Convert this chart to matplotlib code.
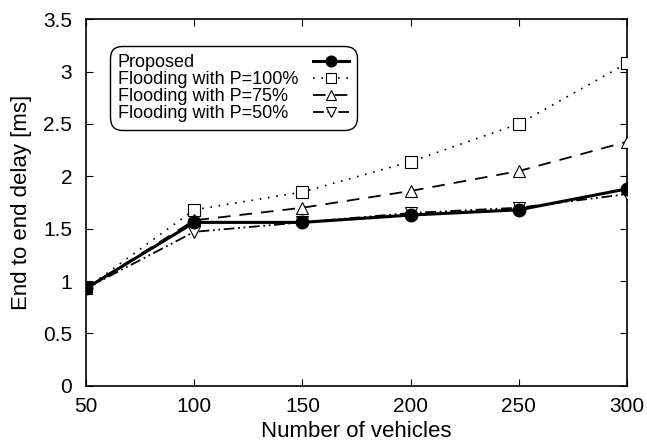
import numpy as np
import matplotlib
matplotlib.use("Agg")
import matplotlib.pyplot as plt
from matplotlib.offsetbox import DrawingArea

# data
vehicles = [50, 100, 150, 200, 250, 300]
proposed = [0.93, 1.56, 1.56, 1.63, 1.68, 1.88]
flood_100 = [0.93, 1.68, 1.85, 2.14, 2.50, 3.08]
flood_75 = [0.93, 1.58, 1.70, 1.86, 2.05, 2.33]
flood_50 = [0.93, 1.47, 1.56, 1.65, 1.70, 1.83]

plt.rcParams['font.family'] = ['Liberation Sans', 'DejaVu Sans']

fig = plt.figure(figsize=(6.47, 4.47), dpi=100)
ax = fig.add_axes([0.133, 0.137, 0.836, 0.820])

ax.plot(vehicles, flood_100, linestyle=(0, (1, 4)), color='black', lw=1.2,
        marker='s', markersize=9, markerfacecolor='white', markeredgecolor='black',
        markeredgewidth=0.8, label='Flooding with P=100%', zorder=3)
ax.plot(vehicles, flood_75, linestyle=(0, (7, 5)), color='black', lw=1.3,
        marker='^', markersize=9, markerfacecolor='white', markeredgecolor='black',
        markeredgewidth=0.8, label='Flooding with P=75%', zorder=3)
ax.plot(vehicles, flood_50, linestyle=(0, (6, 2, 1, 2, 1, 2)), color='black', lw=1.3,
        marker='v', markersize=9, markerfacecolor='white', markeredgecolor='black',
        markeredgewidth=0.8, label='Flooding with P=50%', zorder=3)
ax.plot(vehicles, proposed, linestyle='-', color='black', lw=2.2,
        marker='o', markersize=9, markerfacecolor='black', label='Proposed', zorder=4)

ax.set_xlim(50, 300)
ax.set_ylim(0, 3.5)
ax.set_xticks(vehicles)
ax.set_yticks(np.arange(0, 3.51, 0.5))
ax.set_yticklabels(['0', '0.5', '1', '1.5', '2', '2.5', '3', '3.5'])
ax.tick_params(direction='in', length=5, labelsize=15, top=True, right=True, pad=8)
ax.tick_params(axis='y', pad=10)
for s in ax.spines.values():
    s.set_linewidth(1.2)

ax.set_xlabel('Number of vehicles', fontsize=16, labelpad=4)
ax.set_ylabel('End to end delay [ms]', fontsize=16, labelpad=8)

handles, labels = ax.get_legend_handles_labels()
order = [3, 0, 1, 2]
leg = ax.legend([handles[i] for i in order], [labels[i] for i in order],
                loc='upper left', bbox_to_anchor=(0.027, 0.952), fontsize=13,
                markerfirst=False, handlelength=2.0, labelspacing=0.0,
                handletextpad=0.4, borderpad=0.45, fancybox=True, framealpha=1,
                edgecolor='black', markerscale=0.85)
leg.get_frame().set_linewidth(1.0)
leg.get_frame().set_boxstyle('round,pad=0,rounding_size=0.7')

# left-align legend texts (gnuplot style): pad short labels with spacers
fig.canvas.draw()
renderer = fig.canvas.get_renderer()
widths = [t.get_window_extent(renderer).width for t in leg.get_texts()]
wmax = max(widths)
column = leg._legend_handle_box.get_children()[0]
for item, w in zip(column.get_children(), widths):
    pad_pt = (wmax - w) * 72.0 / fig.dpi
    item._children.insert(1, DrawingArea(pad_pt, 0))

fig.savefig('out.png', dpi=100)
